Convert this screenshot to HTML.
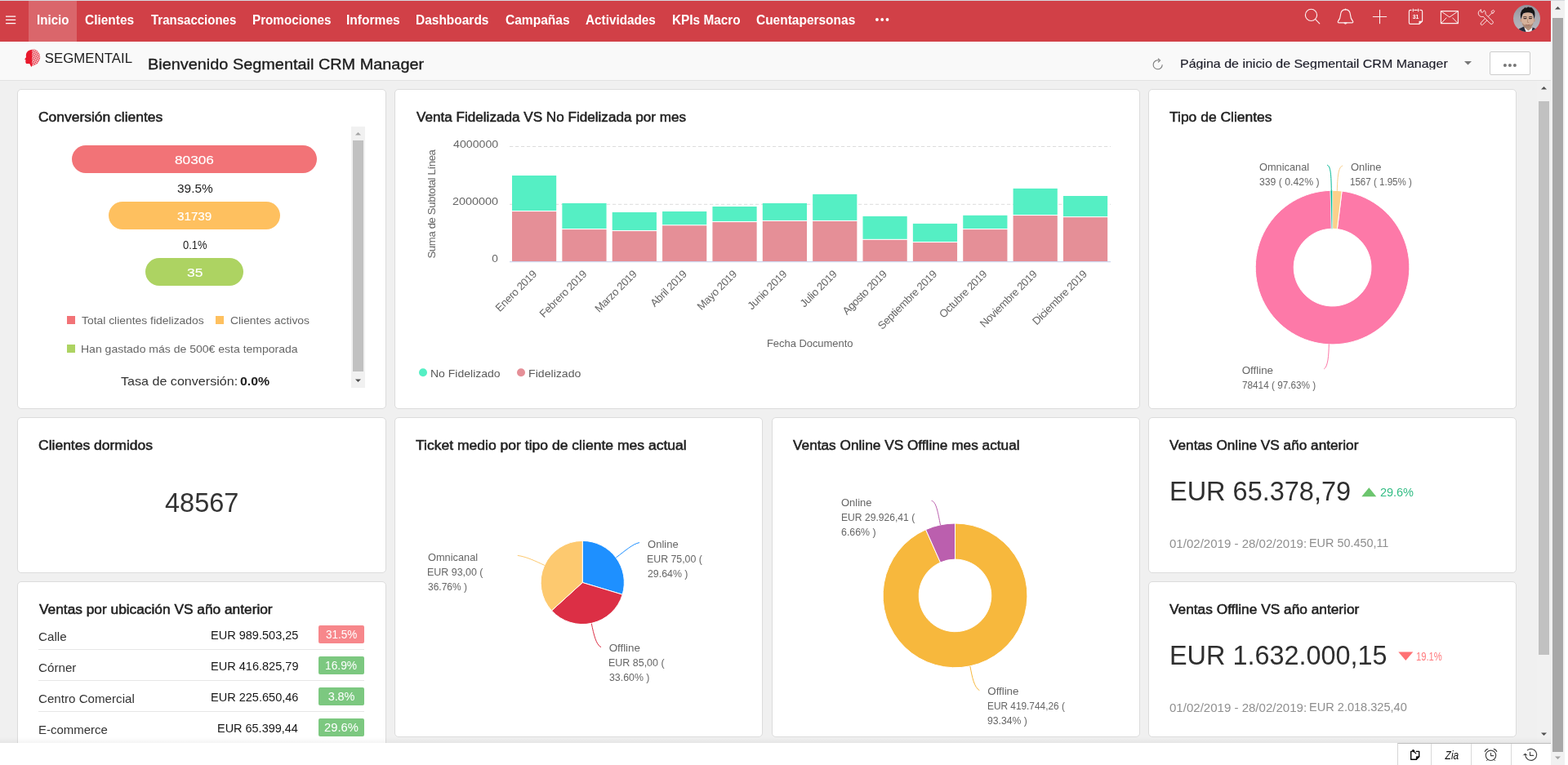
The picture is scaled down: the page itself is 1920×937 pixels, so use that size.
<!DOCTYPE html>
<html lang="es"><head><meta charset="utf-8"><title>Segmentail CRM Manager</title><style>
*{box-sizing:border-box;margin:0;padding:0}
html,body{width:1920px;height:937px;overflow:hidden;background:#fff}
body{position:relative;font-family:"Liberation Sans",Arial,Helvetica,sans-serif;font-size:15px;color:#333}
div,span,svg,a,h1,h2,nav,header,footer,section,ul,li{position:absolute;display:block;list-style:none}
.t{white-space:nowrap}
.card{background:#fff;border:1px solid #dcdcdc;border-radius:5px}
.pill{border-radius:17px}
.badge{border-radius:2px}
h1,h2{font-weight:inherit;font-size:inherit}
</style></head><body>
<div style="left:0px;top:0px;width:1916px;height:1px;background:#d5d9de"></div>
<nav style="left:0;top:1px;width:1899px;height:50px;background:#d14047"><div style="left:35px;top:0px;width:59px;height:50px;background:rgba(255,255,255,.2)"></div><svg style="left:6px;top:18px" width="14" height="11" viewBox="0 0 14 11"><path d="M1 1.1h12.200M1 5.400h12.200M1 9.600h12.200" stroke="#fff" stroke-width="1.100" fill="none"/></svg><span class="t" style="left:44.92px;top:14.4px;font-size:16.3px;line-height:18px;color:#fff;font-weight:700;transform:scaleX(0.9288);transform-origin:0 0;">Inicio</span><span class="t" style="left:104.08px;top:14.4px;font-size:16.3px;line-height:18px;color:#fff;font-weight:700;transform:scaleX(0.9488);transform-origin:0 0;">Clientes</span><span class="t" style="left:184.55px;top:14.4px;font-size:16.3px;line-height:18px;color:#fff;font-weight:700;transform:scaleX(0.9220);transform-origin:0 0;">Transacciones</span><span class="t" style="left:308.91px;top:14.4px;font-size:16.3px;line-height:18px;color:#fff;font-weight:700;transform:scaleX(0.9348);transform-origin:0 0;">Promociones</span><span class="t" style="left:424.49px;top:14.4px;font-size:16.3px;line-height:18px;color:#fff;font-weight:700;transform:scaleX(0.9560);transform-origin:0 0;">Informes</span><span class="t" style="left:509.49px;top:14.4px;font-size:16.3px;line-height:18px;color:#fff;font-weight:700;transform:scaleX(0.9505);transform-origin:0 0;">Dashboards</span><span class="t" style="left:618.63px;top:14.4px;font-size:16.3px;line-height:18px;color:#fff;font-weight:700;transform:scaleX(0.9547);transform-origin:0 0;">Campañas</span><span class="t" style="left:717.12px;top:14.4px;font-size:16.3px;line-height:18px;color:#fff;font-weight:700;transform:scaleX(0.9396);transform-origin:0 0;">Actividades</span><span class="t" style="left:822.5px;top:14.4px;font-size:16.3px;line-height:18px;color:#fff;font-weight:700;transform:scaleX(0.9435);transform-origin:0 0;">KPIs Macro</span><span class="t" style="left:925.88px;top:14.4px;font-size:16.3px;line-height:18px;color:#fff;font-weight:700;transform:scaleX(0.9503);transform-origin:0 0;">Cuentapersonas</span><svg style="left:1070px;top:20px" width="20" height="6" viewBox="0 0 20 6"><circle cx="3.9" cy="3" r="1.9" fill="#fff"/><circle cx="10.2" cy="3" r="1.9" fill="#fff"/><circle cx="16.5" cy="3" r="1.9" fill="#fff"/></svg><svg style="left:1590px;top:0" width="309" height="50" viewBox="1590 1 309 50" fill="none" stroke="#fff" stroke-width="1.15" stroke-linecap="round" stroke-linejoin="round"><g opacity=".92"><circle cx="1605.5" cy="18.4" r="7.1"/><path d="M1610.7 23.6L1615.8 28.8"/><path d="M1647.5 11.6C1651.6 11.8 1653.4 15 1653.6 18.6C1653.8 22.6 1655 24.4 1656.5 26C1657.3 27 1656.6 27.9 1655.5 27.9H1639.5C1638.4 27.9 1637.7 27 1638.5 26C1640 24.4 1641.2 22.6 1641.4 18.6C1641.6 15 1643.4 11.8 1647.5 11.6Z"/><circle cx="1647.5" cy="11.4" r=".8" fill="#fff" stroke="none"/><path d="M1645.9 28.3C1646.3 29.7 1648.7 29.7 1649.1 28.3Z" fill="#fff" stroke-width=".8"/><path d="M1681.300 20.500H1697.700M1689.500 12.300V28.700" stroke-width="1.050"/><path d="M1728 12.4H1727C1725.9 12.4 1725.4 13 1725.4 14V27.8C1725.4 28.8 1725.9 29.4 1727 29.4H1737.8L1741.6 26V14C1741.6 13 1741.1 12.4 1740 12.4H1739M1731.9 12.4H1735.1M1730.3 11V13.8M1736.7 11V13.8"/><path d="M1737.8 29.2V26H1741.4Z" fill="#fff" stroke-width=".6"/><rect x="1764.4" y="13.6" width="21" height="15"/><path d="M1765.4 14.4L1774.9 21L1784.4 14.4M1765.4 27.8L1771 22M1784.4 27.8L1778.8 22" stroke-width="1"/><g stroke-width=".95" transform="translate(-.2 -.5)"><path d="M1829.100 13.100L1830.100 14.100L1828.200 17.100L1826.300 15.200Z"/><path d="M1827.200 16.200L1822.400 21"/><path d="M1821.200 20.900L1823.400 23.100L1815.800 30.700A1.560 1.560 0 0 1 1813.600 28.500Z"/><path d="M1813.300 12.400A4.400 4.400 0 1 0 1816.400 20.800L1825 29.400A2 2 0 0 0 1827.900 26.500L1819.200 17.800A4.400 4.400 0 0 0 1817.700 13.200L1815.700 15.700L1813.900 15.300Z" fill="#d14047"/></g></g><text x="1733.500" y="23" text-anchor="middle" font-family="Liberation Sans, Arial, sans-serif" font-size="7.6" font-weight="700" fill="#fff" stroke="none" textLength="7.6" lengthAdjust="spacingAndGlyphs">31</text><defs><clipPath id="av"><circle cx="1869.5" cy="22.6" r="16.5"/></clipPath><filter id="bl" x="-20%" y="-20%" width="140%" height="140%"><feGaussianBlur stdDeviation=".55"/></filter><linearGradient id="avbg" x1="0" y1="0" x2="0" y2="1"><stop offset="0" stop-color="#8f9098"/><stop offset=".45" stop-color="#a9a9b1"/><stop offset="1" stop-color="#bcbbc1"/></linearGradient></defs><g clip-path="url(#av)" stroke="none"><rect x="1852" y="5" width="36" height="36" fill="url(#avbg)"/><g filter="url(#bl)"><path d="M1866.500 30L1866 34.500L1870.500 38.500L1875.500 34.500L1875 30Z" fill="#b48f7a"/><path d="M1857 41L1860.200 35.300L1866 32.600L1869.800 41Z" fill="#262c3a"/><path d="M1874.500 41L1876.500 33.400L1880.600 35.200L1883 41Z" fill="#262c3a"/><path d="M1866.200 33.200L1869.600 41H1874.800L1876.500 33.600L1871.500 37.800Z" fill="#f3f1f0"/><ellipse cx="1862.700" cy="25" rx="1.200" ry="2.100" fill="#c39a83"/><ellipse cx="1878.500" cy="25" rx="1.200" ry="2.100" fill="#c39a83"/><ellipse cx="1870.600" cy="24.200" rx="7.500" ry="9.800" fill="#d6b19a"/><path d="M1863.600 27.500C1864.600 32.500 1867.600 34.200 1870.600 34.200C1873.600 34.200 1876.600 32.500 1877.600 27.500C1876 30.200 1873.500 31 1870.600 31C1867.700 31 1865.200 30.200 1863.600 27.500Z" fill="#a88672"/><path d="M1862.700 23.500C1861.300 19 1861.600 15.500 1863.200 13.200C1864 11.400 1865.800 11.200 1866.300 10C1867.200 8.300 1868.600 9.800 1869.600 9.600C1870.800 8 1872.300 8.100 1873.200 9.400C1874.600 8.600 1876.200 9.600 1876.800 10.800C1878.800 12.400 1879.800 15.500 1879.400 18.500C1879.300 20.500 1878.900 22.200 1878.500 23.500C1878.300 20.500 1877.600 17.800 1876.300 16.200C1873 14.900 1868.500 15 1865.400 16.300C1864 17.800 1863.200 20.500 1862.700 23.500Z" fill="#141216"/><path d="M1865.500 20.800C1866.800 20.200 1868.300 20.300 1869.300 20.900M1872.200 20.900C1873.300 20.300 1874.800 20.200 1876 20.800" stroke="#2b2122" stroke-width=".9" fill="none"/><path d="M1866 22.600H1868.900M1872.500 22.600H1875.400" stroke="#3a2c2a" stroke-width="1.100"/><path d="M1870.700 23.500L1870.400 27.300L1871.800 27.500" stroke="#b08a72" stroke-width=".9" fill="none"/><path d="M1868.400 30.300C1869.800 30.800 1871.600 30.800 1873 30.300" stroke="#a5695d" stroke-width="1" fill="none"/></g></g></svg>
</nav>
<header style="left:0;top:51px;width:1899px;height:48px;background:#f9f9f9;border-bottom:1px solid #e2e2e2"><svg style="left:29px;top:8px" width="22" height="24" viewBox="29 59 22 24"><defs><pattern id="dots" x="39" y="59.600" width="2.200" height="2.200" patternUnits="userSpaceOnUse" patternTransform="rotate(28 44 70)"><rect x=".150" y=".150" width="1.500" height="1.500" rx=".4" fill="#e8192c"/></pattern></defs><path d="M39.300 60.700C36 60.800 32.900 62.800 32 66.300C31.700 67.600 31.800 68.900 32 70C31.600 70.800 30.700 71.600 30.300 72.200C30.300 72.700 31 73 31.400 73.300L31.300 75.300C31.300 76.400 31.500 77.600 32.300 77.900L36.200 78.100L38.300 81.900L39.500 80.400L39.300 75.500Z" fill="#e8192c"/><path d="M39.100 60.300C45 59.800 49.300 64.800 49.200 70.300C49.100 75.300 45.500 79.500 40.300 80.600C39.600 80.700 39.300 80.400 39.300 79.700Z" fill="url(#dots)"/><path d="M39.100 60.300C45 59.800 49.300 64.800 49.200 70.300C49.100 75.300 45.500 79.500 40.300 80.600C39.600 80.700 39.300 80.400 39.300 79.700Z" fill="#e8192c" opacity=".16"/></svg>
<span class="t" style="left:54.74px;top:10.7px;font-size:16.8px;line-height:19px;color:#1c1c1c;letter-spacing:0.05px;">SEGMENTAIL</span><h1><span class="t" style="left:180.81px;top:17px;font-size:19px;line-height:21px;color:#1d1d1d;transform:scaleX(1.0464);transform-origin:0 0;-webkit-text-stroke:.35px #1d1d1d;">Bienvenido Segmentail CRM Manager</span></h1><svg style="left:1410px;top:19px" width="16" height="16" viewBox="0 -.4 16.500 16.500"><path d="M13.6 9.1A5.7 5.7 0 1 1 9.2 3.6" stroke="#777" stroke-width="1.1" fill="none"/><path d="M8.2 1.2L10.9 3.7L8.3 6.1" stroke="#777" stroke-width="1.1" fill="none"/></svg><div style="left:1440px;top:14px;width:340px;height:19.6px;overflow:hidden"><span class="t" style="left:5.22px;top:4.8px;font-size:14.6px;line-height:16px;color:#1c1c28;transform:scaleX(1.0948);transform-origin:0 0;-webkit-text-stroke:.15px #1c1c28;">Página de inicio de Segmentail CRM Manager</span></div><svg style="left:1792px;top:23px" width="11" height="6" viewBox="0 0 11 6"><path d="M1 1h9L5.5 5.6z" fill="#777"/></svg><div style="left:1824px;top:12px;width:50px;height:29px;background:#fff;border:1px solid #ccc;border-radius:2px"><svg style="left:15px;top:13px" width="20" height="6" viewBox="0 0 20 6"><circle cx="2.900" cy="3.100" r="2" fill="#777"/><circle cx="8.900" cy="3.100" r="2" fill="#777"/><circle cx="14.900" cy="3.100" r="2" fill="#777"/></svg></div></header>
<main style="position:absolute;left:0;top:99px;width:1899px;height:811px;background:#f0f0f0;overflow:hidden"><section class="card" style="left:21px;top:10px;width:452px;height:392px"><h2><span class="t" style="left:25.13px;top:24.8px;font-size:15.8px;line-height:17px;color:#222;transform:scaleX(1.1047);transform-origin:0 0;-webkit-text-stroke:.5px #222;">Conversión clientes</span></h2><div class="pill" style="left:66px;top:68px;width:300px;height:34px;background:#f27377"></div><span class="t" style="left:192.11px;top:78px;font-size:14.6px;line-height:16px;color:#fff;transform:scaleX(1.1796);transform-origin:0 0;-webkit-text-stroke:.15px #fff;">80306</span><span class="t" style="left:194.86px;top:113px;font-size:14.4px;line-height:16px;color:#222;transform:scaleX(1.0699);transform-origin:0 0;">39.5%</span><div class="pill" style="left:111px;top:137px;width:210px;height:34px;background:#fec05f"></div><span class="t" style="left:195.17px;top:147px;font-size:14.6px;line-height:16px;color:#fff;transform:scaleX(1.0401);transform-origin:0 0;-webkit-text-stroke:.15px #fff;">31739</span><span class="t" style="left:201.75px;top:182px;font-size:14.4px;line-height:16px;color:#222;transform:scaleX(0.8987);transform-origin:0 0;">0.1%</span><div class="pill" style="left:156px;top:206px;width:120px;height:34px;background:#add362"></div><span class="t" style="left:206.69px;top:216px;font-size:14.6px;line-height:16px;color:#fff;transform:scaleX(1.1912);transform-origin:0 0;-webkit-text-stroke:.15px #fff;">35</span><div style="left:60px;top:277px;width:10px;height:10px;background:#f27377"></div><span class="t" style="left:78.22px;top:275px;font-size:12.8px;line-height:15px;color:#666;transform:scaleX(1.0849);transform-origin:0 0;">Total clientes fidelizados</span><div style="left:242px;top:277px;width:10px;height:10px;background:#fec05f"></div><span class="t" style="left:260.11px;top:275px;font-size:12.8px;line-height:15px;color:#666;transform:scaleX(1.0816);transform-origin:0 0;">Clientes activos</span><div style="left:60px;top:312px;width:10px;height:10px;background:#add362"></div><span class="t" style="left:77.38px;top:310px;font-size:12.8px;line-height:15px;color:#666;transform:scaleX(1.0949);transform-origin:0 0;">Han gastado más de 500€ esta temporada</span><span class="t" style="left:125.88px;top:349px;font-size:14.4px;line-height:16px;color:#333;transform:scaleX(1.1185);transform-origin:0 0;">Tasa de conversión:</span><span class="t" style="left:271.95px;top:349px;font-size:14.4px;line-height:16px;color:#222;font-weight:700;transform:scaleX(1.1011);transform-origin:0 0;">0.0%</span><div style="left:408px;top:45px;width:17px;height:320px;background:#f1f1f1"><div style="left:2px;top:17px;width:13px;height:283px;background:#c1c1c1"></div><svg style="left:0;top:0" width="17" height="17" viewBox="0 0 17 17"><path d="M5 10.5h7L8.5 7z" fill="#a3a3a3"/></svg><svg style="left:0;top:303px" width="17" height="17" viewBox="0 0 17 17"><path d="M5 6.5h7L8.5 10z" fill="#505050"/></svg></div></section><section class="card" style="left:483px;top:10px;width:913px;height:392px"><h2><span class="t" style="left:25.8px;top:25.3px;font-size:15.8px;line-height:17px;color:#222;transform:scaleX(1.0831);transform-origin:0 0;-webkit-text-stroke:.5px #222;">Venta Fidelizada VS No Fidelizada por mes</span></h2><svg style="left:0;top:0" width="911" height="390" viewBox="0 0 911 390" font-family="Liberation Sans, Arial, sans-serif"><path d="M140 69.5H876 M140 140.3H876" stroke="#dcdcdc" stroke-width="1" stroke-dasharray="4.2,2.8" fill="none"/><rect x="143" y="105" width="54.2" height="43" fill="#55efc4"/><rect x="143" y="149.1" width="54.2" height="61.2" fill="#e58f97"/><rect x="204.36" y="138.9" width="54.2" height="31.1" fill="#55efc4"/><rect x="204.36" y="171.1" width="54.2" height="39.2" fill="#e58f97"/><rect x="265.72" y="150" width="54.2" height="22" fill="#55efc4"/><rect x="265.72" y="173.1" width="54.2" height="37.2" fill="#e58f97"/><rect x="327.08" y="149" width="54.2" height="16.2" fill="#55efc4"/><rect x="327.08" y="166.3" width="54.2" height="44" fill="#e58f97"/><rect x="388.44" y="143" width="54.2" height="18" fill="#55efc4"/><rect x="388.44" y="162.1" width="54.2" height="48.2" fill="#e58f97"/><rect x="449.8" y="138.9" width="54.2" height="21" fill="#55efc4"/><rect x="449.8" y="161" width="54.2" height="49.3" fill="#e58f97"/><rect x="511.16" y="127.9" width="54.2" height="32" fill="#55efc4"/><rect x="511.16" y="161" width="54.2" height="49.3" fill="#e58f97"/><rect x="572.52" y="154.9" width="54.2" height="27.9" fill="#55efc4"/><rect x="572.52" y="183.9" width="54.2" height="26.4" fill="#e58f97"/><rect x="633.88" y="163.9" width="54.2" height="22.1" fill="#55efc4"/><rect x="633.88" y="187.1" width="54.2" height="23.2" fill="#e58f97"/><rect x="695.24" y="153.8" width="54.2" height="16.2" fill="#55efc4"/><rect x="695.24" y="171.1" width="54.2" height="39.2" fill="#e58f97"/><rect x="756.6" y="120.9" width="54.2" height="32.1" fill="#55efc4"/><rect x="756.6" y="154.1" width="54.2" height="56.2" fill="#e58f97"/><rect x="817.96" y="130" width="54.2" height="25.1" fill="#55efc4"/><rect x="817.96" y="156.2" width="54.2" height="54.1" fill="#e58f97"/><path d="M140 210.6H876" stroke="#cdd6ee" stroke-width="1.2" fill="none"/><text transform="translate(174.2 226.3) rotate(-45)" text-anchor="end" font-size="13.2" fill="#666" textLength="65.19" lengthAdjust="spacing">Enero 2019</text><text transform="translate(235.45 226.3) rotate(-45)" text-anchor="end" font-size="13.2" fill="#666" textLength="75.69" lengthAdjust="spacing">Febrero 2019</text><text transform="translate(296.7 226.3) rotate(-45)" text-anchor="end" font-size="13.2" fill="#666" textLength="66.57" lengthAdjust="spacing">Marzo 2019</text><text transform="translate(357.95 226.3) rotate(-45)" text-anchor="end" font-size="13.2" fill="#666" textLength="56.77" lengthAdjust="spacing">Abril 2019</text><text transform="translate(419.2 226.3) rotate(-45)" text-anchor="end" font-size="13.2" fill="#666" textLength="62.37" lengthAdjust="spacing">Mayo 2019</text><text transform="translate(480.45 226.3) rotate(-45)" text-anchor="end" font-size="13.2" fill="#666" textLength="61.68" lengthAdjust="spacing">Junio 2019</text><text transform="translate(541.7 226.3) rotate(-45)" text-anchor="end" font-size="13.2" fill="#666" textLength="57.47" lengthAdjust="spacing">Julio 2019</text><text transform="translate(602.95 226.3) rotate(-45)" text-anchor="end" font-size="13.2" fill="#666" textLength="70.79" lengthAdjust="spacing">Agosto 2019</text><text transform="translate(664.2 226.3) rotate(-45)" text-anchor="end" font-size="13.2" fill="#666" textLength="96.01" lengthAdjust="spacing">Septiembre 2019</text><text transform="translate(725.45 226.3) rotate(-45)" text-anchor="end" font-size="13.2" fill="#666" textLength="76.39" lengthAdjust="spacing">Octubre 2019</text><text transform="translate(786.7 226.3) rotate(-45)" text-anchor="end" font-size="13.2" fill="#666" textLength="92.5" lengthAdjust="spacing">Noviembre 2019</text><text transform="translate(847.95 226.3) rotate(-45)" text-anchor="end" font-size="13.2" fill="#666" textLength="88.29" lengthAdjust="spacing">Diciembre 2019</text><text transform="translate(49.4 139.8) rotate(-90)" text-anchor="middle" font-size="13.2" fill="#666" textLength="133.5">Suma de Subtotal Línea</text><circle cx="34" cy="346.3" r="5" fill="#55efc4"/><circle cx="154" cy="346.3" r="5" fill="#e58f97"/></svg><span class="t" style="left:70.52px;top:59px;font-size:13.6px;line-height:15px;color:#666;transform:scaleX(1.0430);transform-origin:0 0;">4000000</span><span class="t" style="left:69.68px;top:129px;font-size:13.6px;line-height:15px;color:#666;transform:scaleX(1.0590);transform-origin:0 0;">2000000</span><span class="t" style="left:118.13px;top:199px;font-size:13.6px;line-height:15px;color:#666;">0</span><span class="t" style="left:454.96px;top:303.3px;font-size:13px;line-height:15px;color:#666;letter-spacing:-0.05px;">Fecha Documento</span><span class="t" style="left:43.38px;top:339.7px;font-size:13.6px;line-height:15px;color:#5a5a5a;transform:scaleX(1.0303);transform-origin:0 0;">No Fidelizado</span><span class="t" style="left:163.37px;top:339.7px;font-size:13.6px;line-height:15px;color:#5a5a5a;transform:scaleX(1.0395);transform-origin:0 0;">Fidelizado</span></section><section class="card" style="left:1406px;top:10px;width:451px;height:392px"><h2><span class="t" style="left:24.95px;top:25.3px;font-size:15.8px;line-height:17px;color:#222;transform:scaleX(1.1053);transform-origin:0 0;-webkit-text-stroke:.5px #222;">Tipo de Clientes</span></h2><svg style="left:0;top:0" width="449" height="390" viewBox="0 0 449 390"><path d="M236.12 124.01A94.3 94.3 0 1 1 222.11 123.33L223.35 170.22A47.4 47.4 0 1 0 230.39 170.56Z" fill="#fd79a8" stroke="#fff" stroke-width="1"/><path d="M224.60 123.30A94.3 94.3 0 0 1 236.12 124.01L230.39 170.56A47.4 47.4 0 0 0 224.60 170.20Z" fill="#fbd08b" stroke="#fff" stroke-width="1"/><path d="M222.11 123.33A94.3 94.3 0 0 1 224.60 123.30L224.60 170.20A47.4 47.4 0 0 0 223.35 170.22Z" fill="#00b894" stroke="#fff" stroke-width=".6"/><path d="M218 92.2C222.5 93 223 105 223.3 123.8" stroke="#00b894" stroke-width="1" fill="none"/><path d="M237.2 93C231.5 94 230.8 108 230.3 123.8" stroke="#fbd08b" stroke-width="1" fill="none"/><path d="M220.3 311.4C220 326 219 339 214.2 342" stroke="#fd79a8" stroke-width="1" fill="none"/></svg><span class="t" style="left:134.72px;top:87px;font-size:13.4px;line-height:15px;color:#666;transform:scaleX(0.9546);transform-origin:0 0;">Omnicanal</span><span class="t" style="left:134.87px;top:105px;font-size:13.4px;line-height:15px;color:#666;transform:scaleX(0.9142);transform-origin:0 0;">339 ( 0.42% )</span><span class="t" style="left:246.62px;top:87px;font-size:13.4px;line-height:15px;color:#666;transform:scaleX(0.9658);transform-origin:0 0;">Online</span><span class="t" style="left:246.33px;top:105px;font-size:13.4px;line-height:15px;color:#666;transform:scaleX(0.8642);transform-origin:0 0;">1567 ( 1.95% )</span><span class="t" style="left:113.7px;top:336px;font-size:13.4px;line-height:15px;color:#666;letter-spacing:-0.02px;">Offline</span><span class="t" style="left:113.71px;top:354px;font-size:13.4px;line-height:15px;color:#666;transform:scaleX(0.8780);transform-origin:0 0;">78414 ( 97.63% )</span></section><section class="card" style="left:21px;top:412px;width:452px;height:191px"><h2><span class="t" style="left:25.02px;top:25.2px;font-size:15.8px;line-height:17px;color:#222;transform:scaleX(1.1076);transform-origin:0 0;-webkit-text-stroke:.5px #222;">Clientes dormidos</span></h2><span class="t" style="left:179.55px;top:84.8px;font-size:33.4px;line-height:37px;color:#333;transform:scaleX(0.9737);transform-origin:0 0;">48567</span></section><section class="card" style="left:483px;top:412px;width:451px;height:392px"><h2><span class="t" style="left:25.05px;top:25.2px;font-size:15.8px;line-height:17px;color:#222;transform:scaleX(1.1099);transform-origin:0 0;-webkit-text-stroke:.5px #222;">Ticket medio por tipo de cliente mes actual</span></h2><svg style="left:0;top:0" width="449" height="390" viewBox="0 0 449 390"><path d="M229.25 201.50L229.25 150.40A51.1 51.1 0 0 1 278.19 216.19Z" fill="#1e90ff" stroke="#fff" stroke-width="1" stroke-linejoin="round"/><path d="M229.25 201.50L278.19 216.19A51.1 51.1 0 0 1 191.48 235.91Z" fill="#dc2f45" stroke="#fff" stroke-width="1" stroke-linejoin="round"/><path d="M229.25 201.50L191.48 235.91A51.1 51.1 0 0 1 229.25 150.40Z" fill="#fdc96f" stroke="#fff" stroke-width="1" stroke-linejoin="round"/><path d="M270.3 171C281 163 291 154 299 152.6" stroke="#1e90ff" stroke-width="1" fill="none"/><path d="M182.8 180.4C171 175 161 170 149.8 168.4" stroke="#fdc96f" stroke-width="1" fill="none"/><path d="M240.3 251.8C243 265 246 278 252 280.7" stroke="#dc2f45" stroke-width="1" fill="none"/></svg><span class="t" style="left:308.61px;top:147px;font-size:13.4px;line-height:15px;color:#666;transform:scaleX(0.9737);transform-origin:0 0;">Online</span><span class="t" style="left:308.21px;top:165px;font-size:13.4px;line-height:15px;color:#666;transform:scaleX(0.9211);transform-origin:0 0;">EUR 75,00 (</span><span class="t" style="left:308.58px;top:183px;font-size:13.4px;line-height:15px;color:#666;transform:scaleX(0.9216);transform-origin:0 0;">29.64% )</span><span class="t" style="left:39.52px;top:163px;font-size:13.4px;line-height:15px;color:#666;transform:scaleX(0.9546);transform-origin:0 0;">Omnicanal</span><span class="t" style="left:39.1px;top:181px;font-size:13.4px;line-height:15px;color:#666;transform:scaleX(0.9294);transform-origin:0 0;">EUR 93,00 (</span><span class="t" style="left:39.68px;top:199px;font-size:13.4px;line-height:15px;color:#666;transform:scaleX(0.8951);transform-origin:0 0;">36.76% )</span><span class="t" style="left:261.7px;top:274px;font-size:13.4px;line-height:15px;color:#666;letter-spacing:-0.04px;">Offline</span><span class="t" style="left:261.3px;top:292px;font-size:13.4px;line-height:15px;color:#666;transform:scaleX(0.9308);transform-origin:0 0;">EUR 85,00 (</span><span class="t" style="left:261.87px;top:310px;font-size:13.4px;line-height:15px;color:#666;transform:scaleX(0.9219);transform-origin:0 0;">33.60% )</span></section><section class="card" style="left:945px;top:412px;width:451px;height:392px"><h2><span class="t" style="left:25.1px;top:25.2px;font-size:15.8px;line-height:17px;color:#222;transform:scaleX(1.0914);transform-origin:0 0;-webkit-text-stroke:.5px #222;">Ventas Online VS Offline mes actual</span></h2><svg style="left:0;top:0" width="449" height="390" viewBox="0 0 449 390"><path d="M223.50 129.00A88.4 88.4 0 1 1 187.58 136.63L205.50 176.92A44.3 44.3 0 1 0 223.50 173.10Z" fill="#f7b83d" stroke="#fff" stroke-width="1"/><path d="M187.58 136.63A88.4 88.4 0 0 1 223.50 129.00L223.50 173.10A44.3 44.3 0 0 0 205.50 176.92Z" fill="#bb5fae" stroke="#fff" stroke-width="1"/><path d="M194.6 101.2C200.5 102.5 202.5 116 205.5 131" stroke="#bb5fae" stroke-width="1" fill="none"/><path d="M241.9 304C244.5 318 247 330 253.4 333.7" stroke="#f7b83d" stroke-width="1" fill="none"/></svg><span class="t" style="left:84.32px;top:95.8px;font-size:13.4px;line-height:15px;color:#666;transform:scaleX(0.9684);transform-origin:0 0;">Online</span><span class="t" style="left:83.93px;top:113.8px;font-size:13.4px;line-height:15px;color:#666;transform:scaleX(0.9048);transform-origin:0 0;">EUR 29.926,41 (</span><span class="t" style="left:84.28px;top:131.8px;font-size:13.4px;line-height:15px;color:#666;transform:scaleX(0.9250);transform-origin:0 0;">6.66% )</span><span class="t" style="left:263.3px;top:327.3px;font-size:13.4px;line-height:15px;color:#666;letter-spacing:-0.05px;">Offline</span><span class="t" style="left:262.95px;top:345.3px;font-size:13.4px;line-height:15px;color:#666;transform:scaleX(0.8848);transform-origin:0 0;">EUR 419.744,26 (</span><span class="t" style="left:263.35px;top:363.3px;font-size:13.4px;line-height:15px;color:#666;transform:scaleX(0.9108);transform-origin:0 0;">93.34% )</span></section><section class="card" style="left:1406px;top:412px;width:451px;height:191px"><h2><span class="t" style="left:25.3px;top:25.2px;font-size:15.8px;line-height:17px;color:#222;transform:scaleX(1.0888);transform-origin:0 0;-webkit-text-stroke:.5px #222;">Ventas Online VS año anterior</span></h2><span class="t" style="left:24.5px;top:70.8px;font-size:33.4px;line-height:37px;color:#2f2f2f;transform:scaleX(0.9727);transform-origin:0 0;">EUR 65.378,79</span><svg style="left:259.5px;top:84.5px" width="19" height="12" viewBox="0 0 19 12"><path d="M.3 11.300L9.300 .300L18.300 11.300z" fill="#6cc56e"/></svg><span class="t" style="left:282.98px;top:82.8px;font-size:14.5px;line-height:16px;color:#34bd85;letter-spacing:-0.07px;">29.6%</span><span class="t" style="left:24.97px;top:146px;font-size:14.2px;line-height:16px;color:#909090;transform:scaleX(1.0600);transform-origin:0 0;">01/02/2019 - 28/02/2019:</span><span class="t" style="left:196.35px;top:145.2px;font-size:14.8px;line-height:16px;color:#8e8e8e;transform:scaleX(0.9728);transform-origin:0 0;">EUR 50.450,11</span></section><section class="card" style="left:1406px;top:613px;width:451px;height:191px"><h2><span class="t" style="left:25.3px;top:25.2px;font-size:15.8px;line-height:17px;color:#222;transform:scaleX(1.0946);transform-origin:0 0;-webkit-text-stroke:.5px #222;">Ventas Offline VS año anterior</span></h2><span class="t" style="left:24.51px;top:70.8px;font-size:33.4px;line-height:37px;color:#2f2f2f;transform:scaleX(0.9701);transform-origin:0 0;">EUR 1.632.000,15</span><svg style="left:304.9px;top:84.5px" width="19" height="12" viewBox="0 0 19 12"><path d="M.3 .6L9.3 11L18.3 .6z" fill="#ff7174"/></svg><span class="t" style="left:327.46px;top:82.8px;font-size:14.5px;line-height:16px;color:#ff7a7d;transform:scaleX(0.7744);transform-origin:0 0;">19.1%</span><span class="t" style="left:24.97px;top:146px;font-size:14.2px;line-height:16px;color:#909090;transform:scaleX(1.0600);transform-origin:0 0;">01/02/2019 - 28/02/2019:</span><span class="t" style="left:196.34px;top:145.2px;font-size:14.8px;line-height:16px;color:#8e8e8e;transform:scaleX(0.9839);transform-origin:0 0;">EUR 2.018.325,40</span></section><section class="card" style="left:21px;top:613px;width:452px;height:392px"><h2><span class="t" style="left:25.6px;top:25px;font-size:15.8px;line-height:17px;color:#222;transform:scaleX(1.0951);transform-origin:0 0;-webkit-text-stroke:.5px #222;">Ventas por ubicación VS año anterior</span></h2><span class="t" style="left:24.94px;top:59px;font-size:14.4px;line-height:16px;color:#333;transform:scaleX(1.0559);transform-origin:0 0;">Calle</span><span class="t" style="left:235.84px;top:55.6px;font-size:15px;line-height:17px;color:#161616;transform:scaleX(0.9686);transform-origin:0 0;">EUR 989.503,25</span><div class="badge" style="left:368px;top:53px;width:56px;height:22px;background:#f7878b"></div><span class="t" style="left:376.93px;top:56.4px;font-size:14.5px;line-height:16px;color:#fff;transform:scaleX(0.9328);transform-origin:0 0;">31.5%</span><div style="left:25px;top:82px;width:399px;height:1px;background:#e6e6e6"></div><span class="t" style="left:24.94px;top:97px;font-size:14.4px;line-height:16px;color:#333;transform:scaleX(1.0550);transform-origin:0 0;">Córner</span><span class="t" style="left:235.84px;top:93.6px;font-size:15px;line-height:17px;color:#161616;transform:scaleX(0.9693);transform-origin:0 0;">EUR 416.825,79</span><div class="badge" style="left:368px;top:91px;width:56px;height:22px;background:#7cc880"></div><span class="t" style="left:376.27px;top:94.4px;font-size:14.5px;line-height:16px;color:#fff;transform:scaleX(0.9516);transform-origin:0 0;">16.9%</span><div style="left:25px;top:120px;width:399px;height:1px;background:#e6e6e6"></div><span class="t" style="left:24.94px;top:135px;font-size:14.4px;line-height:16px;color:#333;transform:scaleX(1.0521);transform-origin:0 0;">Centro Comercial</span><span class="t" style="left:235.84px;top:131.6px;font-size:15px;line-height:17px;color:#161616;transform:scaleX(0.9686);transform-origin:0 0;">EUR 225.650,46</span><div class="badge" style="left:368px;top:129px;width:56px;height:22px;background:#7cc880"></div><span class="t" style="left:379.69px;top:132.4px;font-size:14.5px;line-height:16px;color:#fff;letter-spacing:-0.08px;">3.8%</span><div style="left:25px;top:158px;width:399px;height:1px;background:#e6e6e6"></div><span class="t" style="left:24.5px;top:173px;font-size:14.4px;line-height:16px;color:#333;transform:scaleX(1.0407);transform-origin:0 0;">E-commerce</span><span class="t" style="left:244.24px;top:169.6px;font-size:15px;line-height:17px;color:#161616;transform:scaleX(0.9638);transform-origin:0 0;">EUR 65.399,44</span><div class="badge" style="left:368px;top:167px;width:56px;height:22px;background:#7cc880"></div><span class="t" style="left:375.06px;top:170.4px;font-size:14.5px;line-height:16px;color:#fff;transform:scaleX(1.0182);transform-origin:0 0;">29.6%</span></section><div style="left:1882px;top:0;width:17px;height:811px;background:#f1f1f1"><div style="left:2px;top:25px;width:13px;height:678px;background:#c1c1c1"></div><svg style="left:0;top:0" width="17" height="17" viewBox="0 0 17 17"><path d="M5 10.5h7L8.5 7z" fill="#505050"/></svg><svg style="left:0;top:792px" width="17" height="17" viewBox="0 0 17 17"><path d="M5 6.5h7L8.5 10z" fill="#505050"/></svg></div></main>
<div style="left:0;top:903px;width:1899px;height:7px;background:linear-gradient(rgba(0,0,0,0),rgba(0,0,0,.045))"></div>
<footer style="left:0;top:910px;width:1899px;height:27px;background:#fff"><div style="left:1711px;top:0;width:188px;height:27px;border-top:1px solid #bdbdbd;border-left:1px solid #d6d6d6"></div><div style="left:1752px;top:1px;width:1px;height:26px;background:#d9d9d9"></div><div style="left:1801px;top:1px;width:1px;height:26px;background:#d9d9d9"></div><div style="left:1850px;top:1px;width:1px;height:26px;background:#d9d9d9"></div><svg style="left:1712px;top:0" width="187" height="27" viewBox="1712 910 187 27" fill="none" stroke-linecap="round" stroke-linejoin="round"><g stroke="#000" stroke-width="1.350"><path d="M1729 920.300H1727.700V930.200H1734.300L1737.700 926.800V920.300H1734.200"/><path d="M1734.300 930V926.800H1737.500Z" fill="#000" stroke-width=".8"/><circle cx="1730.500" cy="919.600" r="1.200" fill="#000" stroke-width=".8"/><path d="M1730.800 920L1733.800 922.900" stroke-width="1.200"/></g><g stroke="#444" stroke-width="1.150"><circle cx="1825.500" cy="925.300" r="6.200"/><path d="M1825.500 922.300V925.600H1828.700"/><path d="M1818.300 920.600C1818.200 918.700 1819.800 917.300 1822.200 917.400C1820.600 918 1819.200 919.200 1818.300 920.600Z M1832.700 920.600C1832.800 918.700 1831.200 917.300 1828.800 917.400C1830.400 918 1831.800 919.200 1832.700 920.600Z" fill="#444" stroke-width=".9"/><path d="M1821.800 930.300L1820.400 931.500M1829.200 930.300L1830.600 931.500" stroke-width="1"/><path d="M1870.300 918.900A7 7 0 1 1 1867.700 924.800"/><path d="M1865.500 925L1867.600 922.900L1869.600 925" fill="#444" stroke-width=".9"/><path d="M1873.500 921.400V925.300H1877.700"/></g><text x="1769.600" y="930" font-family="Liberation Sans, Arial, sans-serif" font-style="italic" font-size="14.500" fill="#111" stroke="none" textLength="16.600" lengthAdjust="spacingAndGlyphs">Zia</text></svg>
</footer>
<div style="left:1899px;top:1px;width:17px;height:936px;background:#f1f1f1"><div style="left:2px;top:21px;width:13px;height:899px;background:#a8a8a8"></div><svg style="left:0;top:0" width="17" height="17" viewBox="0 0 17 17"><path d="M5 10.5h7L8.5 7z" fill="#505050"/></svg><svg style="left:0;top:919px" width="17" height="17" viewBox="0 0 17 17"><path d="M5 6.5h7L8.5 10z" fill="#a3a3a3"/></svg></div>
</body></html>
